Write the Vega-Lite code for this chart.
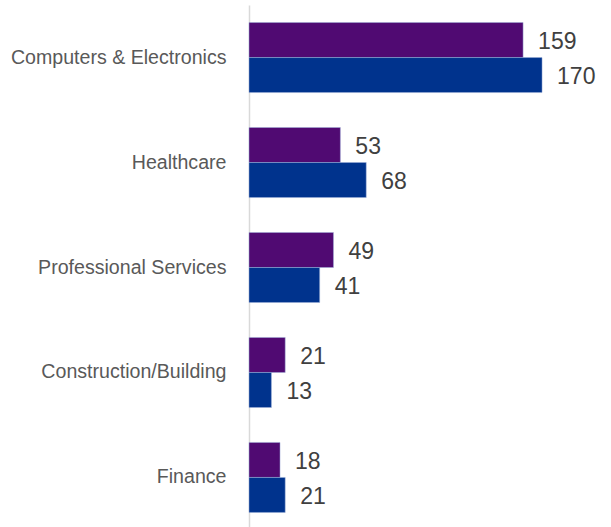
{
  "$schema": "https://vega.github.io/schema/vega-lite/v6.json",
  "autosize": "none",
  "padding": {"left": 249, "top": 5, "right": 0, "bottom": 0},
  "width": 362,
  "height": 525,
  "config": {"view": {"stroke": null}, "font": "Liberation Sans"},
  "data": {
    "values": [
      {"category": "Computers & Electronics", "series": "A", "value": 159},
      {"category": "Computers & Electronics", "series": "B", "value": 170},
      {"category": "Healthcare", "series": "A", "value": 53},
      {"category": "Healthcare", "series": "B", "value": 68},
      {"category": "Professional Services", "series": "A", "value": 49},
      {"category": "Professional Services", "series": "B", "value": 41},
      {"category": "Construction/Building", "series": "A", "value": 21},
      {"category": "Construction/Building", "series": "B", "value": 13},
      {"category": "Finance", "series": "A", "value": 18},
      {"category": "Finance", "series": "B", "value": 21}
    ]
  },
  "encoding": {
    "y": {
      "field": "category",
      "type": "nominal",
      "sort": null,
      "scale": {"paddingInner": 0.333, "paddingOuter": 0.167},
      "axis": {
        "title": null,
        "ticks": false,
        "domainColor": "#d9d9d9",
        "domainWidth": 1.5,
        "labelFontSize": 19.6,
        "labelColor": "#595959",
        "labelPadding": 23,
        "labelLimit": 300
      }
    },
    "yOffset": {"field": "series", "type": "nominal", "sort": ["A", "B"]},
    "x": {
      "field": "value",
      "type": "quantitative",
      "scale": {"domain": [0, 210], "nice": false},
      "axis": null
    }
  },
  "layer": [
    {
      "mark": {"type": "bar", "stroke": "#9fb0d8", "strokeWidth": 0.5},
      "encoding": {
        "color": {
          "field": "series",
          "type": "nominal",
          "scale": {"domain": ["A", "B"], "range": ["#500a72", "#00338d"]},
          "legend": null
        }
      }
    },
    {
      "mark": {"type": "text", "align": "left", "baseline": "middle", "dx": 15, "dy": 2, "fontSize": 23, "color": "#404040"},
      "encoding": {"text": {"field": "value", "type": "quantitative"}}
    }
  ]
}
